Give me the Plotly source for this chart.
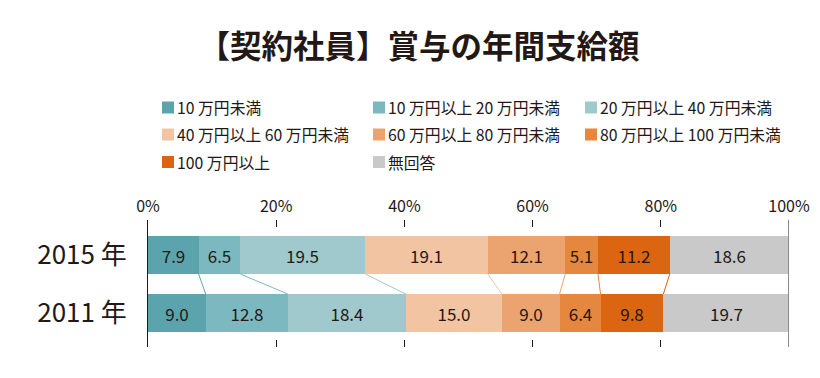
import plotly.graph_objects as go

categories = ["10 万円未満", "10 万円以上 20 万円未満", "20 万円以上 40 万円未満",
              "40 万円以上 60 万円未満", "60 万円以上 80 万円未満", "80 万円以上 100 万円未満",
              "100 万円以上", "無回答"]
years = ["2015 年", "2011 年"]
values_2015 = [7.9, 6.5, 19.5, 19.1, 12.1, 5.1, 11.2, 18.6]
values_2011 = [9.0, 12.8, 18.4, 15.0, 9.0, 6.4, 9.8, 19.7]
x_ticks = [0, 20, 40, 60, 80, 100]
x_ticktext = ["0%", "20%", "40%", "60%", "80%", "100%"]

colors = ["#5BA4AD", "#7BB8BF", "#A0C9CE", "#F3C4A1", "#EBA470", "#E6873F", "#DC6511", "#C9C9CA"]
TXT = "#231815"
FONT = "Noto Sans CJK JP"

# page body has an 8px margin; shrink the figure so it fills the 820x378 window
OFF = 8
W, H = 820 - OFF, 378 - OFF
# plot area in window pixels: x 148..789, y 220..347
L, R, T, B = 148 - OFF, 820 - 789, 220 - OFF, 378 - 347
pw, ph = W - L - R, H - T - B

def px2paper(x, y):
    # x, y in window pixels
    return (x - OFF - L) / pw, (H - B - (y - OFF)) / ph

bw = 0.655
fig = go.Figure()
for i, cat in enumerate(categories):
    fig.add_trace(go.Bar(
        orientation="h", y=[1, 0], x=[values_2015[i], values_2011[i]],
        width=bw, name=cat, marker=dict(color=colors[i], line=dict(width=0)),
        text=[f"{values_2015[i]:.1f}", f"{values_2011[i]:.1f}"],
        textposition="inside", insidetextanchor="middle", textangle=0,
        textfont=dict(size=17, color=TXT, family=FONT),
        showlegend=False, hoverinfo="skip"))

# connector lines between segment boundaries
c15, c11 = 0, 0
for i in range(len(categories) - 1):
    c15 += values_2015[i]
    c11 += values_2011[i]
    fig.add_trace(go.Scatter(x=[c15, c11], y=[1 - bw / 2, bw / 2], mode="lines",
                             line=dict(color=colors[i], width=1), showlegend=False,
                             hoverinfo="skip"))

# right 100% line
fig.add_shape(type="line", xref="x", yref="paper", x0=100, x1=100, y0=0, y1=1,
              line=dict(color="#8A8A8A", width=2))

# custom legend
col_x = [162, 373, 585]
row_y = [107.5, 134.5, 162]
for i, cat in enumerate(categories):
    r, c = divmod(i, 3)
    x0, y0 = px2paper(col_x[c], row_y[r] - 6)
    x1, y1 = px2paper(col_x[c] + 12, row_y[r] + 6)
    fig.add_shape(type="rect", xref="paper", yref="paper", x0=x0, x1=x1, y0=y1, y1=y0,
                  fillcolor=colors[i], line=dict(width=0))
    tx, ty = px2paper(col_x[c] + 13, row_y[r])
    fig.add_annotation(text=cat, xref="paper", yref="paper", x=tx, y=ty,
                       xanchor="left", yanchor="middle", showarrow=False,
                       font=dict(size=15.8, color=TXT, family=FONT))

fig.update_layout(
    width=W, height=H, margin=dict(l=L, r=R, t=T, b=B),
    paper_bgcolor="white", plot_bgcolor="white", barmode="stack", bargap=0,
    title=dict(text="<b>【契約社員】賞与の年間支給額</b>", xref="container", yref="container",
               x=(419 - OFF) / W, y=1 - (47 - OFF) / H, xanchor="center", yanchor="middle",
               font=dict(size=31.5, color=TXT, family=FONT)),
    xaxis=dict(range=[0, 100], side="top", tickvals=x_ticks, ticktext=x_ticktext,
               ticks="inside", ticklen=7, tickcolor=TXT, tickwidth=1, mirror="ticks",
               showline=False, showgrid=False, zeroline=False, fixedrange=True,
               automargin=False,
               tickfont=dict(size=16, color=TXT, family=FONT), ticklabelstandoff=4),
    yaxis=dict(range=[-0.586, 1.603], tickvals=[1, 0], ticktext=years,
               showline=True, linecolor=TXT, linewidth=1, showgrid=False, zeroline=False,
               ticks="", tickfont=dict(size=26, color=TXT, family=FONT),
               automargin=False, ticklabelstandoff=15, fixedrange=True),
)

fig.write_html("out.html")
